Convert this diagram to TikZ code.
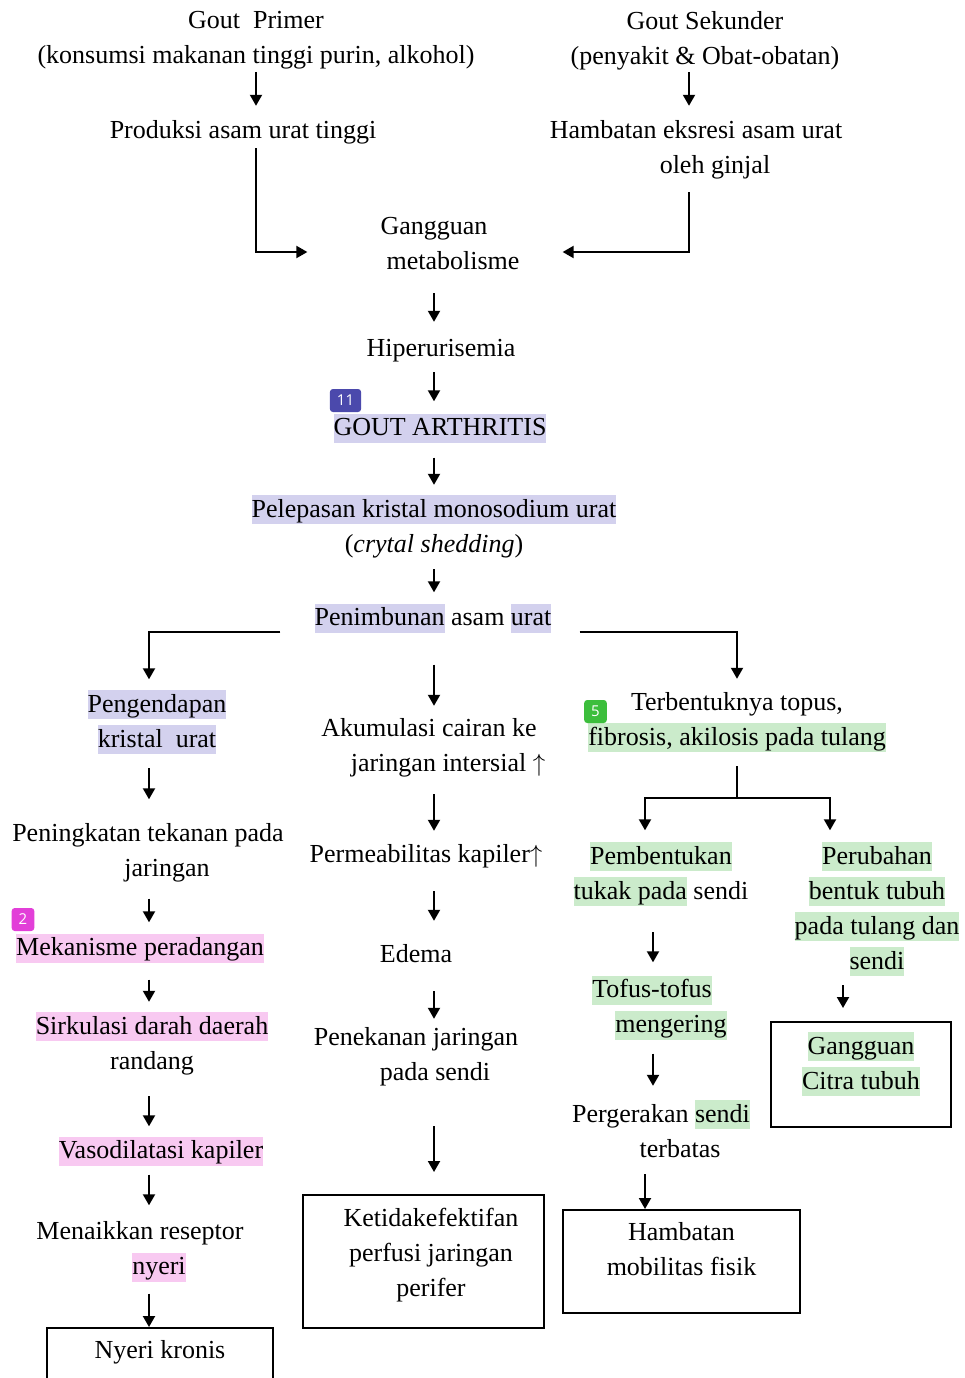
\documentclass[tikz,border=0pt]{standalone}
\usepackage{fontspec}
\setmainfont{Liberation Serif}
\newfontfamily\tagfont{Open Sans}
\usetikzlibrary{arrows.meta}

\definecolor{hlblue}{HTML}{D3D1EE}
\definecolor{hlpink}{HTML}{F8C9F1}
\definecolor{hlgreen}{HTML}{CBEBCB}
\definecolor{tagblue}{HTML}{4B49AC}
\definecolor{tagpink}{HTML}{E23FD8}
\definecolor{taggreen}{HTML}{3CBE3C}

\def\lineshift{38pt}
\newcommand{\hilite}[2]{{\setlength{\fboxsep}{0pt}\colorbox{#1}{\rule[-7pt]{0pt}{29pt}#2}}}

\begin{document}
\begin{tikzpicture}[x=1pt, y=-1pt, font=\fontsize{26}{35}\selectfont]
	\tikzstyle{txt}=[align=center, inner sep=0pt, execute at begin node={\rule{0pt}{18pt}}, execute at end node={\rule[-6pt]{0pt}{6pt}}]
	\tikzstyle{box}=[txt, draw, line width=1.8pt, anchor=north]
	\tikzstyle{tag}=[rounded corners=3pt, inner xsep=7pt, inner ysep=0pt, minimum width=21pt, minimum height=23pt, text=white, font=\tagfont\fontsize{15}{15}\selectfont]
	\tikzstyle{arr}=[-{Triangle[length=11pt,width=12pt]}, line width=2pt]

	\useasboundingbox (0,0) rectangle (964,1378);

	% Draw the causes at the top
	\node[txt] (gp) at (256,40.5) {Gout~ Primer\\(konsumsi makanan tinggi purin, alkohol)};
	\node[txt] (gs) at (705,40.5) {Gout Sekunder\\(penyakit \& Obat-obatan)};
	\node[txt] (prod) at (243,132) {Produksi asam urat tinggi};
	\node[txt] (hamb) at (696,149.5) {Hambatan eksresi asam urat\\\hspace*{\lineshift}oleh ginjal};

	% Draw the main chain
	\node[txt] (gm) at (434,246) {Gangguan\\\hspace*{\lineshift}metabolisme};
	\node[txt] (hip) at (441,350) {Hiperurisemia};
	\node[txt] (ga) at (440,428) {\hilite{hlblue}{GOUT ARTHRITIS}};
	\node[txt] (pel) at (434,526.5) {\hilite{hlblue}{Pelepasan kristal monosodium urat}\\(\textit{crytal shedding})};
	\node[txt] (pen) at (433,618) {\hilite{hlblue}{Penimbunan} asam \hilite{hlblue}{urat}};

	% Draw the left column
	\node[txt] (L1) at (157,722) {\hilite{hlblue}{Pengendapan}\\\hilite{hlblue}{kristal~ urat}};
	\node[txt] (L2) at (148,853) {Peningkatan tekanan pada\\\hspace*{\lineshift}jaringan};
	\node[txt] (L3) at (140,948) {\hilite{hlpink}{Mekanisme peradangan}};
	\node[txt] (L4) at (152,1043.5) {\hilite{hlpink}{Sirkulasi darah daerah}\\randang};
	\node[txt] (L5) at (161,1151) {\hilite{hlpink}{Vasodilatasi kapiler}};
	\node[txt] (L6) at (140,1251.5) {Menaikkan reseptor\\\hspace*{\lineshift}\hilite{hlpink}{nyeri}};
	\node[box, minimum width=226pt, text height=31pt, text depth=40pt] (L7) at (160,1327) {Nyeri kronis};

	% Draw the middle column
	\node[txt] (M1) at (429,747.5) {Akumulasi cairan ke\\\hspace*{\lineshift}jaringan intersial $\uparrow$};
	\node[txt] (M2) at (426,856) {Permeabilitas kapiler$\uparrow$};
	\node[txt] (M3) at (416,956) {Edema};
	\node[txt] (M4) at (416,1056.5) {Penekanan jaringan\\\hspace*{\lineshift}pada sendi};
	\node[box, minimum width=241pt, text height=102pt, text depth=31pt] (M5) at (423.5,1194) {\hspace*{15pt}Ketidakefektifan\\\hspace*{15pt}perfusi jaringan\\\hspace*{15pt}perifer};

	% Draw the right columns
	\node[txt] (R1) at (737,722) {Terbentuknya topus,\\\hilite{hlgreen}{fibrosis, akilosis pada tulang}};
	\node[txt] (R2) at (661,874) {\hilite{hlgreen}{Pembentukan}\\\hilite{hlgreen}{tukak pada} sendi};
	\node[txt] (R3) at (652,1007.5) {\hilite{hlgreen}{Tofus-tofus}\\\hspace*{\lineshift}\hilite{hlgreen}{mengering}};
	\node[txt] (R4) at (661,1131.5) {Pergerakan \hilite{hlgreen}{sendi}\\\hspace*{\lineshift}terbatas};
	\node[box, minimum width=237pt, text height=66pt, text depth=37pt] (R5) at (681.5,1209) {Hambatan\\mobilitas fisik};
	\node[txt] (S1) at (877,909) {\hilite{hlgreen}{Perubahan}\\\hilite{hlgreen}{bentuk tubuh}\\\hilite{hlgreen}{pada tulang dan}\\\hilite{hlgreen}{sendi}};
	\node[box, minimum width=180pt, text height=67.5pt, text depth=37.5pt] (S2) at (861,1021) {\hilite{hlgreen}{Gangguan}\\\hilite{hlgreen}{Citra tubuh}};

	% Annotation tags
	\node[tag, fill=tagblue] (t11) at (345.5,400.5) {11};
	\node[tag, fill=tagpink] (t2) at (23,919.5) {2};
	\node[tag, fill=taggreen] (t5) at (595.5,711.5) {5};

	% Straight arrows down each column
	\foreach \from/\to/\ax/\s/\e in {gp/prod/256/2pt/14pt, gs/hamb/689/2pt/14pt,
		gm/hip/434/18pt/16pt, hip/ga/434/10pt/12pt, ga/pel/434/15pt/10pt,
		pel/pen/434/11pt/11pt, pen/M1/434/32pt/12pt,
		L1/L2/149/14pt/24pt, L2/L3/149/16pt/11pt, L3/L4/149/17pt/10pt,
		L4/L5/149/21pt/10pt, L5/L6/149/9pt/16pt, L6/L7/149/12pt/0pt,
		M1/M2/434/17pt/13pt, M2/M3/434/23pt/23pt, M3/M4/434/23pt/8pt, M4/M5/434/40pt/22pt,
		R2/R3/653/26pt/13pt, R3/R4/653/14pt/14pt, R4/R5/645/11pt/0pt,
		S1/S2/843/9pt/13pt}
	\draw[arr, shorten <=\s, shorten >=\e] (\from.south -| \ax,0) -- (\to.north -| \ax,0);

	% Elbow connectors
	\draw[arr, shorten <=4pt, shorten >=41pt] (prod.south -| 256,0) |- ([yshift=-6pt]gm.west);
	\draw[arr, shorten <=13pt, shorten >=43pt] (hamb.south -| 689,0) |- ([yshift=-6pt]gm.east);
	\draw[arr, shorten <=34pt, shorten >=10.5pt] ([yshift=-14pt]pen.west) -| (L1.north -| 149,0);
	\draw[arr, shorten <=28pt, shorten >=13pt] ([yshift=-14pt]pen.east) -| (R1.north -| 737,0);

	% Split below the tophus node
	\coordinate (split) at (737,798);
	\draw[line width=2pt, shorten <=14pt] (R1.south -| split) -- (split);
	\draw[arr, shorten >=11.5pt] (split) -| (R2.north -| 645,0);
	\draw[arr, shorten >=11.5pt] (split) -| (S1.north -| 830,0);
\end{tikzpicture}
\end{document}
